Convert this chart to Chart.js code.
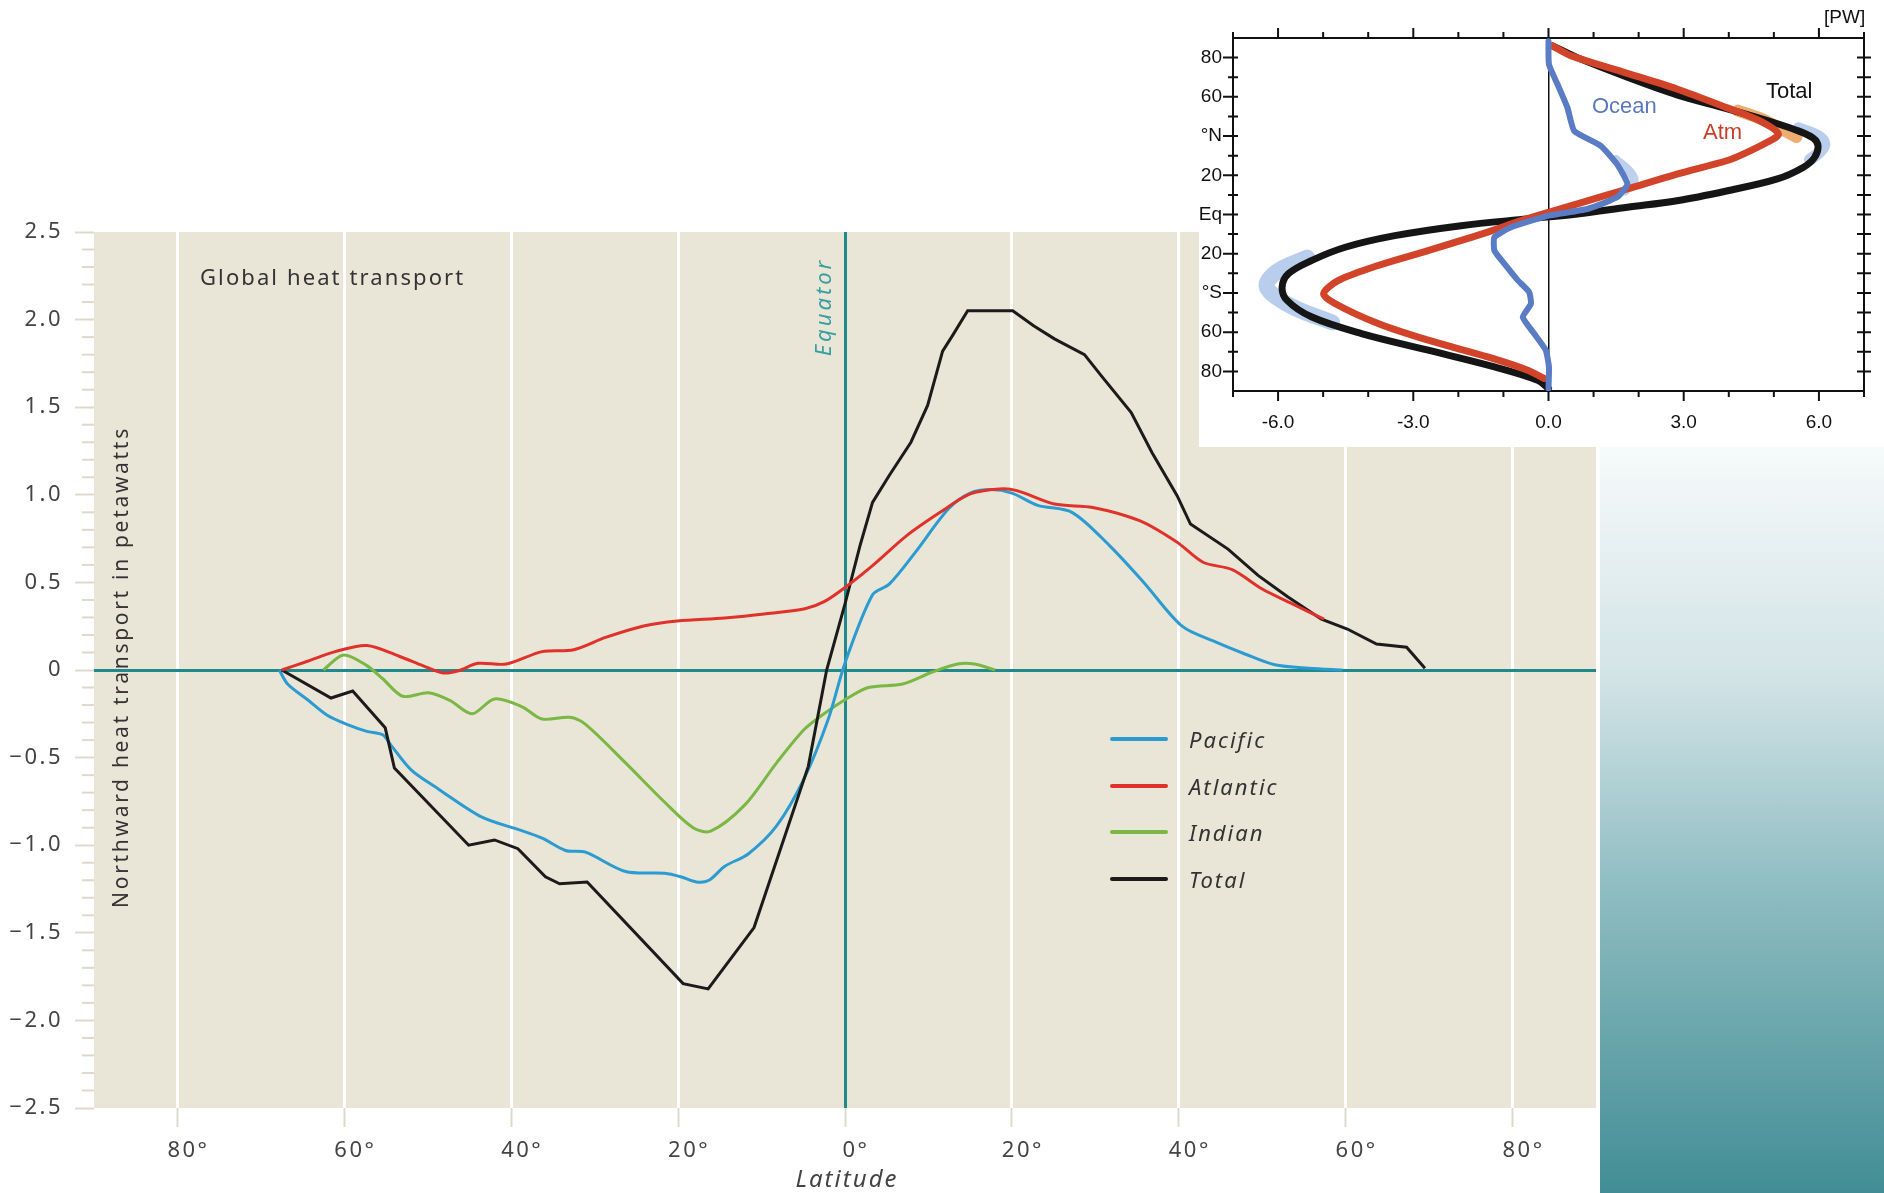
<!DOCTYPE html>
<html>
<head>
<meta charset="utf-8">
<script src="https://cdn.jsdelivr.net/npm/chart.js@4.4.1/dist/chart.umd.min.js"></script>
<style>
  body { margin: 0; background: #fff; }
  #page { position: relative; width: 1884px; height: 1193px; overflow: hidden; font-family: "Noto Sans", sans-serif; }
  #main { position: absolute; left: 0; top: 0; }
  .txt { position: absolute; white-space: nowrap; }
  #ylab { left: -180px; top: 652px; width: 600px; text-align: center; font-size: 21px; letter-spacing: 2.7px; color: #333;
          transform: rotate(-90deg); line-height: 30px; }
  #title { left: 200px; top: 261px; font-size: 22px; letter-spacing: 2.1px; color: #333; line-height: 30px; }
  #eq { left: 722px; top: 292px; width: 200px; text-align: center; font-size: 22px; font-style: italic; letter-spacing: 3px;
        color: #3a9ea0; transform: rotate(-90deg); line-height: 30px; }
  #xlab { left: 697px; top: 1163px; width: 300px; text-align: center; font-size: 24px; font-style: italic; letter-spacing: 2px;
          color: #444; line-height: 30px; }
  .leg-line { position: absolute; width: 58px; height: 4px; border-radius: 2px; }
  .leg-text { position: absolute; font-size: 22px; font-style: italic; letter-spacing: 2px; color: #333; line-height: 30px; }
  #panel { position: absolute; left: 1600px; top: 447px; width: 284px; height: 746px;
           background: linear-gradient(to bottom, #f6fafa 0%, #d2e3e6 31%, #8dbcc1 60%, #428d95 100%); }
  #insetBox { position: absolute; left: 1199px; top: 0; width: 685px; height: 447px; background: #fff; }
  #inset { position: absolute; left: 0; top: 0; }
  .ilab { position: absolute; font-family: "Liberation Sans", Arial, sans-serif; font-size: 22px; line-height: 26px; white-space: nowrap; }
</style>
</head>
<body>
<div id="page">
  <canvas id="main" width="1600" height="1193"></canvas>
  <div id="ylab" class="txt">Northward heat transport in petawatts</div>
  <div id="title" class="txt">Global heat transport</div>
  <div id="eq" class="txt">Equator</div>
  <div id="xlab" class="txt">Latitude</div>
  <div id="legend"></div>
  <div id="panel"></div>
  <div id="insetBox">
    <canvas id="inset" width="685" height="447"></canvas>
    <div class="ilab" style="left:393px; top:93px; color:#5a78bd;">Ocean</div>
    <div class="ilab" style="left:504px; top:119px; color:#c8402a;">Atm</div>
    <div class="ilab" style="left:567px; top:78px; color:#111;">Total</div>
    <div class="ilab" style="left:625px; top:4px; color:#111; font-size:19px;">[PW]</div>
  </div>
</div>

<script>
// ---- main chart: northward ocean heat transport (PW) by latitude ----
const pacificLat = [-67.8, -66.8, -64.4, -62, -59.7, -57.3, -55.4, -54.4, -52, -48.7, -43.5, -39.2, -36.3, -33.5, -31.1,
  -26.3, -21.6, -19.7, -17.8, -16.3, -14.4, -11.6, -8.2, -4.9, -2.0, 0, 3.3, 5.3, 8.4, 12.4, 15, 17.5, 20, 23.1, 27.2,
  31.7, 35.8, 40.4, 44.4, 48, 51.5, 55.6, 59.6];
const pacificPW = [0, -0.08, -0.17, -0.26, -0.31, -0.35, -0.37, -0.43, -0.57, -0.68, -0.84, -0.91, -0.96, -1.03, -1.04,
  -1.15, -1.16, -1.18, -1.21, -1.2, -1.12, -1.05, -0.89, -0.62, -0.28, 0.04, 0.43, 0.49, 0.67, 0.92, 1.01, 1.03, 1.01, 0.94, 0.9,
  0.71, 0.5, 0.25, 0.16, 0.09, 0.03, 0.01, 0];

const atlanticLat = [-67.5, -64.4, -61.1, -57.3, -53.5, -50.6, -48.2, -46.3, -44, -40.6, -36.3, -32.5, -28.7, -24, -20.1,
  -14.4, -9.7, -4.8, -2.5, 0.25, 3.3, 7.4, 11.4, 15, 18.5, 20.6, 25.1, 29.7, 35.3, 39.8, 42.9, 46.4, 50, 53.5, 57.4];
const atlanticPW = [0, 0.05, 0.105, 0.14, 0.08, 0.025, -0.017, -0.004, 0.038, 0.034, 0.105, 0.116, 0.186, 0.253, 0.28,
  0.297, 0.32, 0.35, 0.39, 0.48, 0.596, 0.767, 0.9, 1.005, 1.033, 1.024, 0.947, 0.928, 0.852, 0.729, 0.615, 0.573, 0.462, 0.38, 0.29];

const indianLat = [-62.5, -60.1, -57.3, -55.4, -53, -49.9, -47.3, -44.7, -42, -38.7, -36.3, -33, -31.1, -26.3, -21.6,
  -18.2, -16.1, -12, -8.2, -4.9, -2.8, 0, 2.8, 6.9, 10.4, 13.5, 15.5, 18];
const indianPW = [0, 0.086, 0.025, -0.05, -0.15, -0.13, -0.175, -0.25, -0.165, -0.21, -0.28, -0.27, -0.31, -0.53, -0.755,
  -0.9, -0.92, -0.77, -0.53, -0.34, -0.26, -0.17, -0.1, -0.08, -0.013, 0.034, 0.034, 0];

const totalLat = [-67.5, -61.6, -59, -55.1, -54, -45.1, -42, -39.2, -35.9, -34.2, -30.9, -19.4, -16.4, -10.9, -4.4, -2.2,
  0, 1.8, 3.3, 5.3, 7.9, 9.9, 11.7, 12.9, 14.7, 20.1, 22.6, 25.1, 28.7, 30.7, 34.3, 36.8, 39.8, 41.4, 45.9, 49.5, 53, 57.1,
  60.2, 63.7, 67.3, 69.5];
const totalPW = [0, -0.16, -0.12, -0.33, -0.56, -1.0, -0.97, -1.02, -1.18, -1.22, -1.21, -1.79, -1.82, -1.47, -0.55, 0,
  0.377, 0.71, 0.957, 1.11, 1.3, 1.51, 1.82, 1.91, 2.05, 2.05, 1.965, 1.89, 1.8, 1.68, 1.47, 1.24, 0.995, 0.833, 0.69, 0.54,
  0.42, 0.29, 0.234, 0.148, 0.13, 0.01];

const seriesNames = ["Pacific", "Atlantic", "Indian", "Total"];
const seriesColors = ["#2b9bd1", "#e0322b", "#7ab744", "#1b1b1b"];

const latTicks = [-80, -60, -40, -20, 0, 20, 40, 60, 80];
const pwTicks = [-2.5, -2.0, -1.5, -1.0, -0.5, 0, 0.5, 1.0, 1.5, 2.0, 2.5];

// ---- inset: total / atmosphere / ocean transport (PW), latitude on the vertical ----
const insetTotalLat = [86, 80, 70, 61, 54, 48, 43, 39, 35, 29, 24, 18, 12, 7, 3.7, 0.3, -2.2, -5.7, -10.8, -16.7, -23.4,
  -30.2, -37, -43.8, -52.3, -60.7, -69.2, -77.7, -84.5, -88.7];
const insetTotalPW = [0.09, 0.64, 1.75, 2.85, 3.95, 4.84, 5.5, 5.87, 5.98, 5.9, 5.65, 5.06, 3.95, 2.85, 1.75, 0.64, -0.46,
  -1.94, -3.41, -4.51, -5.25, -5.77, -5.91, -5.8, -5.25, -4.15, -2.67, -1.2, -0.24, 0];

const insetAtmLat = [86, 81, 72, 64, 54.5, 47.7, 41, 36.7, 30.8, 27.4, 20.6, 13, 5.4, 1.1, -3.1, -9, -18.4, -26, -33.6,
  -40.4, -45.5, -55.6, -64.1, -72.6, -79.4, -83.6];
const insetAtmPW = [0.09, 0.49, 1.75, 2.85, 3.95, 4.69, 5.1, 4.84, 4.32, 3.95, 2.85, 1.75, 0.64, 0, -0.61, -1.35, -2.67,
  -3.78, -4.66, -4.99, -4.73, -3.78, -2.67, -1.35, -0.46, -0.1];

const insetOceanLat = [88.4, 76.6, 66.4, 54.5, 42.6, 35, 25.7, 15.5, 8.8, 2.8, -0.6, -6.5, -11.6, -18.4, -25.1, -33.6,
  -39.5, -45.5, -52.3, -60.7, -69.2, -77.7, -88.7];
const insetOceanPW = [0, 0.01, 0.2, 0.42, 0.57, 1.16, 1.52, 1.75, 1.52, 0.86, 0, -0.83, -1.2, -1.2, -0.98, -0.68, -0.43,
  -0.39, -0.57, -0.32, -0.06, 0.01, 0];

// uncertainty shading
const shadeTotalNLat = [44, 40, 36, 32, 28];
const shadeTotalNPW = [5.55, 5.98, 6.12, 6.02, 5.8];
const shadeTotalSLat = [-22, -28, -33, -37, -42, -48, -55];
const shadeTotalSPW = [-5.35, -5.95, -6.2, -6.25, -6.05, -5.6, -4.8];
const shadeAtmLat = [53, 49, 45, 42, 39.5];
const shadeAtmPW = [4.2, 4.7, 5.05, 5.3, 5.5];
const shadeOceanLat = [28, 22, 17, 12];
const shadeOceanPW = [1.5, 1.8, 1.9, 1.7];

const insetLatLabels = { "80": "80", "60": "60", "40": "°N", "20": "20", "0": "Eq", "-20": "20", "-40": "°S", "-60": "60", "-80": "80" };

const teal = "#1f898c";
const tickTint = "#dedacb";

function pts(xs, ys) {
  return xs.map((x, i) => ({ x: x, y: ys[i] }));
}
// inset has value on x and latitude on y
function ipts(lats, vals) {
  return lats.map((lat, i) => ({ x: vals[i], y: lat }));
}
function isMajor(v) {
  return Math.abs(Math.round(v * 10)) % 5 === 0;
}

// legend (html, inside the plot)
const legend = document.getElementById("legend");
seriesNames.forEach((name, i) => {
  const cy = 739 + i * 46.7;
  legend.innerHTML += `<div class="leg-line" style="left:1110px; top:${cy - 2}px; background:${seriesColors[i]}"></div>` +
    `<div class="leg-text" style="left:1189px; top:${cy - 15}px">${name}</div>`;
});

Chart.defaults.font.family = '"Noto Sans", sans-serif';

const plotBg = {
  id: "plotBg",
  beforeDraw(chart) {
    const { ctx, chartArea: a } = chart;
    ctx.letterSpacing = "2.5px"; // the print font is set wide
    ctx.save();
    ctx.fillStyle = "#e9e6d7";
    ctx.fillRect(a.left, a.top, a.right - a.left, a.bottom - a.top);
    ctx.restore();
  },
};

const yMinorTicks = {
  id: "yMinorTicks",
  afterDraw(chart) {
    const s = chart.scales.y;
    const ctx = chart.ctx;
    ctx.save();
    ctx.strokeStyle = tickTint;
    ctx.lineWidth = 2;
    s.ticks.forEach((t) => {
      if (isMajor(t.value)) return;
      const py = s.getPixelForValue(t.value);
      ctx.beginPath();
      ctx.moveTo(s.right - 12, py);
      ctx.lineTo(s.right, py);
      ctx.stroke();
    });
    ctx.restore();
  },
};

const lineSets = [pacificLat, atlanticLat, indianLat, totalLat].map((lats, i) => {
  const vals = [pacificPW, atlanticPW, indianPW, totalPW][i];
  return {
    label: seriesNames[i],
    data: pts(lats, vals),
    borderColor: seriesColors[i],
    borderWidth: 3,
    pointRadius: 0,
    fill: false,
    tension: i === 3 ? 0 : 0.3,
    order: [2, 0, 3, 1][i],
  };
});

new Chart(document.getElementById("main"), {
  type: "line",
  data: { datasets: lineSets },
  options: {
    responsive: false,
    animation: false,
    devicePixelRatio: 1,
    layout: { padding: { top: 232, right: 4, left: 0, bottom: 0 } },
    plugins: { legend: { display: false }, tooltip: { enabled: false } },
    scales: {
      x: {
        type: "linear",
        min: -90,
        max: 90,
        afterFit: (s) => { s.height = 85; },
        afterBuildTicks: (s) => { s.ticks = latTicks.map((v) => ({ value: v })); },
        ticks: {
          autoSkip: false,
          maxRotation: 0,
          color: "#444",
          font: { size: 22 },
          padding: 11,
          labelOffset: 11,
          callback: (v) => Math.abs(v) + "°",
        },
        grid: {
          color: (c) => (c.tick && c.tick.value === 0 ? teal : "#ffffff"),
          lineWidth: 3,
          tickLength: 19,
          tickColor: tickTint,
          tickWidth: 2,
        },
        border: { display: false },
      },
      y: {
        min: -2.5,
        max: 2.5,
        afterFit: (s) => { s.width = 94; },
        ticks: {
          stepSize: 0.1,
          autoSkip: false,
          color: "#444",
          font: { size: 22 },
          padding: 12,
          callback: (v) => {
            if (!isMajor(v)) return "";
            const m = pwTicks.find((p) => Math.abs(p - v) < 1e-6);
            if (m === undefined) return "";
            return m === 0 ? "0" : m.toFixed(1).replace("-", "\u2212");
          },
        },
        grid: {
          color: (c) => (c.tick && Math.abs(c.tick.value) < 1e-9 ? teal : "rgba(0,0,0,0)"),
          lineWidth: 3,
          tickLength: 19,
          tickColor: (c) => (c.tick && isMajor(c.tick.value) ? tickTint : "rgba(0,0,0,0)"),
          tickWidth: 2,
        },
        border: { display: false },
      },
    },
  },
  plugins: [plotBg, yMinorTicks],
});

// ---- inset chart ----
const insetTicks = {
  id: "insetTicks",
  afterDraw(chart) {
    const ctx = chart.ctx;
    const a = chart.chartArea;
    const sx = chart.scales.x;
    const sy = chart.scales.y;
    ctx.save();
    ctx.strokeStyle = "#111";
    ctx.lineWidth = 2;
    for (let v = -7; v <= 7; v++) {
      const px = sx.getPixelForValue(v);
      const len = v % 3 === 0 ? 10 : 6;
      ctx.beginPath();
      ctx.moveTo(px, a.bottom);
      ctx.lineTo(px, a.bottom + len);
      ctx.moveTo(px, a.top);
      ctx.lineTo(px, a.top - len);
      ctx.stroke();
    }
    for (let lat = -80; lat <= 80; lat += 10) {
      const py = sy.getPixelForValue(lat);
      const out = lat % 20 === 0 ? 10 : 5;
      ctx.beginPath();
      ctx.moveTo(a.left - out, py);
      ctx.lineTo(a.left + 5, py);
      ctx.moveTo(a.right - 7, py);
      ctx.lineTo(a.right + 7, py);
      ctx.stroke();
    }
    ctx.restore();
  },
};

function insetLine(lats, vals, color, width, tension) {
  return {
    data: ipts(lats, vals),
    showLine: true,
    borderColor: color,
    borderWidth: width,
    pointRadius: 0,
    tension: tension,
    borderCapStyle: "round",
    borderJoinStyle: "round",
  };
}

new Chart(document.getElementById("inset"), {
  type: "scatter",
  data: {
    datasets: [
      insetLine(insetOceanLat, insetOceanPW, "#5a7cc4", 6, 0.15),
      insetLine(insetAtmLat, insetAtmPW, "#d2442a", 7, 0.3),
      insetLine(insetTotalLat, insetTotalPW, "#151515", 7, 0.35),
      insetLine(shadeAtmLat, shadeAtmPW, "rgba(233,164,96,0.9)", 12, 0.3),
      insetLine(shadeOceanLat, shadeOceanPW, "rgba(168,192,232,0.75)", 9, 0.3),
      insetLine(shadeTotalNLat, shadeTotalNPW, "rgba(168,192,232,0.8)", 12, 0.4),
      insetLine(shadeTotalSLat, shadeTotalSPW, "rgba(168,192,232,0.8)", 16, 0.4),
    ],
  },
  options: {
    responsive: false,
    animation: false,
    devicePixelRatio: 1,
    layout: { padding: { top: 38, right: 15, left: 0, bottom: 0 } },
    plugins: { legend: { display: false }, tooltip: { enabled: false } },
    scales: {
      x: {
        min: -7,
        max: 7,
        position: "bottom",
        afterFit: (s) => { s.height = 56; },
        ticks: {
          stepSize: 1,
          autoSkip: false,
          maxRotation: 0,
          padding: 20,
          color: "#111",
          font: { family: '"Liberation Sans", Arial, sans-serif', size: 19 },
          callback: (v) => (v % 3 === 0 ? v.toFixed(1) : ""),
        },
        grid: {
          color: (c) => (c.tick && c.tick.value === 0 ? "#111" : "rgba(0,0,0,0)"),
          lineWidth: 1.5,
          drawTicks: false,
        },
        border: { display: true, color: "#111", width: 2 },
      },
      x2: {
        type: "linear",
        min: -7,
        max: 7,
        position: "top",
        afterFit: (s) => { s.height = 0; },
        ticks: { display: false },
        grid: { drawOnChartArea: false, drawTicks: false },
        border: { display: true, color: "#111", width: 2 },
      },
      y: {
        min: -90,
        max: 90,
        afterFit: (s) => { s.width = 34; },
        ticks: {
          stepSize: 10,
          autoSkip: false,
          padding: 11,
          color: "#111",
          font: { family: '"Liberation Sans", Arial, sans-serif', size: 19 },
          callback: (v) => insetLatLabels[String(v)] || "",
        },
        grid: { color: "rgba(0,0,0,0)", drawTicks: false },
        border: { display: true, color: "#111", width: 2 },
      },
      y2: {
        type: "linear",
        min: -90,
        max: 90,
        position: "right",
        afterFit: (s) => { s.width = 0; },
        ticks: { display: false },
        grid: { drawOnChartArea: false, drawTicks: false },
        border: { display: true, color: "#111", width: 2 },
      },
    },
  },
  plugins: [insetTicks],
});
</script>
</body>
</html>
